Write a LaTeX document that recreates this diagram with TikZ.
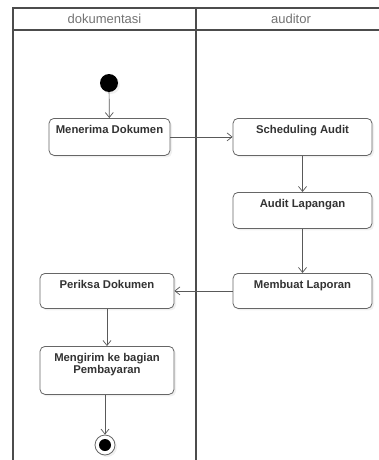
\documentclass[tikz,border=0pt]{standalone}
\usepackage{fontspec}
\setmainfont{Liberation Sans}
\usetikzlibrary{arrows.meta,shadows}

\tikzset{
  lane/.style={draw=black!70, line width=1.6pt},
  lanetitle/.style={text=black!55, font=\fontsize{13}{13}\selectfont},
  act/.style={draw=black!60, fill=white, line width=0.8pt, rounded corners=5pt,
    drop shadow={shadow xshift=2pt, shadow yshift=-2pt, opacity=0.12},
    anchor=north, inner xsep=2pt, inner ysep=4pt, text height=11pt,
    font=\fontsize{11.3}{12}\selectfont\bfseries, text=black!80},
  flow/.style={draw=black!65, line width=0.7pt, -{Straight Barb[length=5pt,width=8pt]}}
}

\begin{document}
\begin{tikzpicture}[x=1pt, y=-1pt]
    \useasboundingbox (0,0) rectangle (379,460);

    % swimlanes
    \draw[lane] (379,8) -- (13,8) -- (13,460);
    \draw[lane] (13,30) -- (379,30);
    \draw[lane] (196,8) -- (196,460);

    \node[lanetitle] (lanedok) at (104.5,19) {dokumentasi};
    \node[lanetitle] (laneaud) at (291,19) {auditor};

    % start / end
    \node[circle, fill=black, minimum size=18pt, inner sep=0pt,
      drop shadow={shadow xshift=2pt, shadow yshift=-2pt, opacity=0.12}] (start) at (109,83) {};
    \node[circle, draw=black!60, fill=white, line width=0.8pt, minimum size=20pt, inner sep=0pt,
      drop shadow={shadow xshift=2pt, shadow yshift=-2pt, opacity=0.12}] (end) at (105,445) {};
    \fill[black] (end) circle (6pt);

    % activities
    \node[act, minimum width=121pt, text depth=18pt] (menerima) at (109.5,118) {Menerima Dokumen};
    \node[act, minimum width=139pt, text depth=18pt] (sched) at (302.5,118) {Scheduling Audit};
    \node[act, minimum width=139pt, text depth=17pt] (auditlap) at (302.5,192) {Audit Lapangan};
    \node[act, minimum width=139pt, text depth=16pt] (laporan) at (302.5,273) {Membuat Laporan};
    \node[act, minimum width=134pt, text depth=16pt] (periksa) at (107,273) {Periksa Dokumen};
    \node[act, minimum width=134pt, text height=23pt, text depth=17pt, align=center] (mengirim) at (107,346)
      {Mengirim ke bagian\\Pembayaran};

    % flows
    \draw[flow] (start) -- (menerima);
    \draw[flow] (menerima) -- (sched);
    \draw[flow] (sched) -- (auditlap);
    \draw[flow] (auditlap) -- (laporan);
    \draw[flow] (laporan) -- (periksa);
    \draw[flow] (periksa) -- (mengirim);
    \draw[flow] (mengirim.south -| end) -- (end);
\end{tikzpicture}
\end{document}
